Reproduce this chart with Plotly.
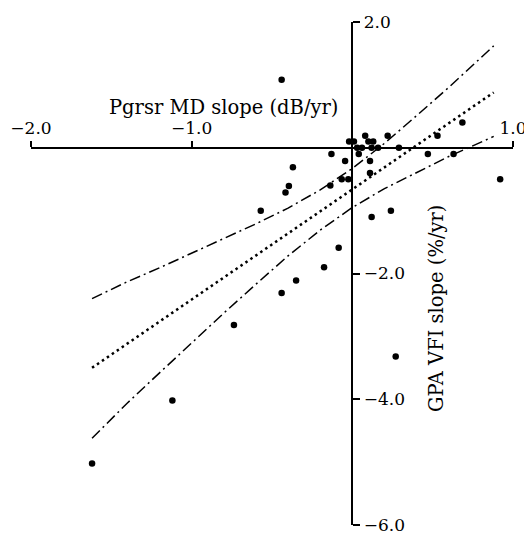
import plotly.graph_objects as go

# Data
md_slope = [-0.44, -0.02, 0.01, 0.08, 0.22, 0.10, 0.13, 0.03, 0.06, 0.04,
            0.12, 0.16, 0.29, 0.47, 0.53, 0.685, 0.63, 0.92, -0.13, -0.045,
            0.11, -0.37, 0.11, -0.066, -0.025, -0.137, -0.395, -0.416, -0.57, 0.12,
            0.24, -0.085, -0.176, -0.35, -0.44, -0.737, -1.12, -1.62, 0.27]
vfi_slope = [1.08, 0.10, 0.10, 0.19, 0.19, 0.10, 0.10, 0.0, 0.0, -0.10,
             0.0, 0.0, 0.0, -0.10, 0.19, 0.40, -0.10, -0.50, -0.10, -0.21,
             -0.21, -0.31, -0.40, -0.50, -0.50, -0.60, -0.61, -0.71, -1.0, -1.10,
             -1.0, -1.59, -1.90, -2.11, -2.31, -2.82, -4.02, -5.02, -3.32]

reg_x = [-1.62, 0.88]
reg_y = [-3.50, 0.88]

band_x = [-1.62, -1.4, -1.2, -1.0, -0.8, -0.6, -0.4, -0.2, 0.0, 0.2, 0.4, 0.6, 0.88]
band_upper = [-2.40, -2.13, -1.91, -1.68, -1.45, -1.21, -0.96, -0.67, -0.33, 0.07, 0.51, 0.96, 1.62]
band_lower = [-4.62, -4.06, -3.58, -3.10, -2.63, -2.17, -1.72, -1.31, -0.95, -0.65, -0.39, -0.14, 0.18]

x_tickvals = [-2, -1, 1]
x_ticktext = ["−2.0", "−1.0", "1.0"]
y_tickvals = [-6, -4, -2, 2]
y_ticktext = ["−6.0", "−4.0", "−2.0", "2.0"]

x_title = "Pgrsr MD slope (dB/yr)"
y_title = "GPA VFI slope (%/yr)"

FONT = "DejaVu Serif"

fig = go.Figure()
dashdot = "11px,4px,2px,4px"
fig.add_trace(go.Scatter(x=band_x, y=band_upper, mode="lines",
                         line=dict(color="black", width=1.5, dash=dashdot), hoverinfo="skip"))
fig.add_trace(go.Scatter(x=band_x, y=band_lower, mode="lines",
                         line=dict(color="black", width=1.5, dash=dashdot), hoverinfo="skip"))
fig.add_trace(go.Scatter(x=reg_x, y=reg_y, mode="lines",
                         line=dict(color="black", width=2.5, dash="2.5px,3.5px"), hoverinfo="skip"))
fig.add_trace(go.Scatter(x=md_slope, y=vfi_slope, mode="markers",
                         marker=dict(color="black", size=6.5)))

fig.update_layout(
    template="none",
    width=524, height=534,
    margin=dict(l=31, r=11, t=22, b=9),
    paper_bgcolor="white", plot_bgcolor="white",
    showlegend=False,
    font=dict(family=FONT, color="black", size=17),
    xaxis=dict(range=[-2, 1], anchor="free", position=0.75, side="top",
               showline=True, linecolor="black", linewidth=2,
               ticks="outside", ticklen=6, tickwidth=2, tickcolor="black",
               tickvals=x_tickvals, ticktext=x_ticktext,
               showgrid=False, zeroline=False, automargin=False,
               ticklabeloverflow="allow",
               tickfont=dict(family=FONT, size=17, color="black")),
    yaxis=dict(range=[-6, 2], anchor="free", position=2/3, side="right",
               showline=True, linecolor="black", linewidth=2,
               ticks="outside", ticklen=7, tickwidth=1.5, tickcolor="black",
               tickvals=y_tickvals, ticktext=y_ticktext,
               showgrid=False, zeroline=False, automargin=False,
               ticklabeloverflow="allow",
               tickfont=dict(family=FONT, size=17, color="black")),
    annotations=[
        dict(text=x_title, xref="paper", yref="paper", x=0.4004, y=0.831,
             xanchor="center", yanchor="middle", showarrow=False,
             font=dict(family=FONT, size=19.5, color="black")),
        dict(text=y_title, xref="paper", yref="paper", x=0.840, y=0.431,
             xanchor="center", yanchor="middle", showarrow=False, textangle=-90,
             font=dict(family=FONT, size=19.5, color="black")),
    ],
)

fig.write_html("out.html", config={"displayModeBar": False},
               post_script="document.body.style.margin='0';")
